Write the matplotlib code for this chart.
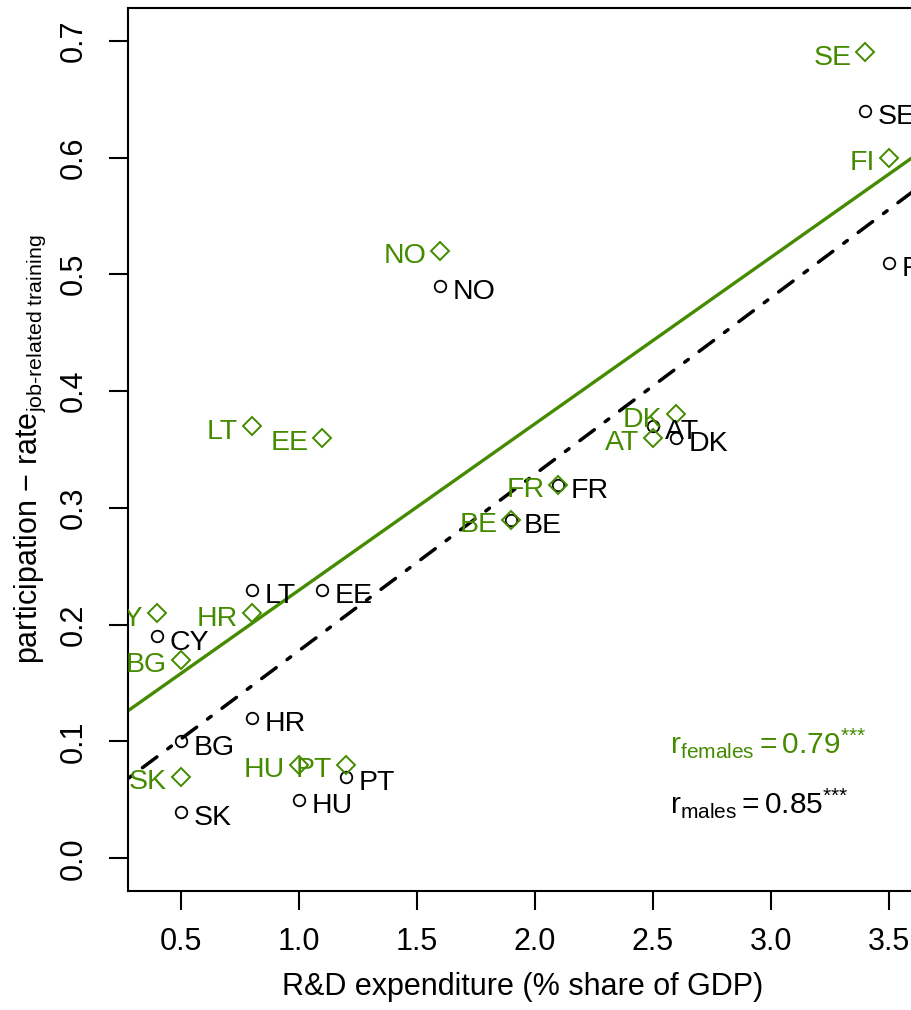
import numpy as np
import matplotlib
matplotlib.use("Agg")
from matplotlib import pyplot as plt

plt.rcParams['font.family'] = ['Liberation Sans', 'DejaVu Sans']
plt.rcParams['mathtext.fontset'] = 'custom'
plt.rcParams['mathtext.rm'] = 'Liberation Sans'
plt.rcParams['mathtext.it'] = 'Liberation Sans:italic'
plt.rcParams['mathtext.bf'] = 'Liberation Sans:bold'

GREEN = '#458B00'

# R&D expenditure (% of GDP) and participation rates
countries = ['SE', 'FI', 'NO', 'AT', 'DK', 'FR', 'BE', 'LT', 'EE',
             'CY', 'HR', 'BG', 'PT', 'HU', 'SK']
rd = [3.4, 3.5, 1.6, 2.5, 2.6, 2.1, 1.9, 0.8, 1.1,
      0.4, 0.8, 0.5, 1.2, 1.0, 0.5]
males = [0.64, 0.51, 0.49, 0.37, 0.36, 0.32, 0.29, 0.23, 0.23,
         0.19, 0.12, 0.10, 0.07, 0.05, 0.04]
females = [0.69, 0.60, 0.52, 0.36, 0.38, 0.32, 0.29, 0.37, 0.36,
           0.21, 0.21, 0.17, 0.08, 0.08, 0.07]

x_ticks = [0.5, 1.0, 1.5, 2.0, 2.5, 3.0, 3.5]
y_ticks = [0.0, 0.1, 0.2, 0.3, 0.4, 0.5, 0.6, 0.7]

fig = plt.figure(figsize=(9.12, 10.10), dpi=100)
# axes box runs past the right edge of the picture (cropped R plot)
ax = fig.add_axes([128 / 912, 119 / 1010, 790 / 912, 883 / 1010])

x = np.array(rd)
ym = np.array(males)
yf = np.array(females)

ax.set_xlim(0.276, 3.624)
ax.set_ylim(-0.028, 0.728)

# regression lines over the full plot width
xx = np.array(ax.get_xlim())
bf = np.polyfit(x, yf, 1)
bm = np.polyfit(x, ym, 1)
ax.plot(xx, np.polyval(bf, xx), color=GREEN, lw=2.4, zorder=2)
ax.plot(xx, np.polyval(bm, xx), color='black', lw=2.5,
        dashes=(1.3, 3.9, 5.2, 3.9), dash_capstyle='round', zorder=2)

ax.plot(x, ym, linestyle='none', marker='o', ms=8.3, mfc='none',
        mec='black', mew=1.3, zorder=3)
ax.plot(x, yf, linestyle='none', marker='D', ms=8.8, mfc='none',
        mec=GREEN, mew=1.4, zorder=3)

for c, xi, m, f in zip(countries, rd, males, females):
    ax.annotate(c, (xi, m), xytext=(9, -4.5), textcoords='offset points',
                ha='left', va='center', fontsize=20.5, color='black',
                annotation_clip=False, clip_on=True)
    ax.annotate(c, (xi, f), xytext=(-10, -4), textcoords='offset points',
                ha='right', va='center', fontsize=20.5, color=GREEN,
                annotation_clip=False, clip_on=True)

ax.text(2.573, 0.0897,
        r'$\mathrm{r}_{\mathrm{females}} = 0.79^{\text{***}}$',
        color=GREEN, fontsize=21.5, ha='left', va='baseline')
ax.text(2.573, 0.0385,
        r'$\mathrm{r}_{\mathrm{males}} = 0.85^{\text{***}}$',
        color='black', fontsize=21.5, ha='left', va='baseline')

ax.set_xticks(x_ticks)
ax.set_xticklabels(['%.1f' % v for v in x_ticks])
ax.set_yticks(y_ticks)
ax.set_yticklabels(['%.1f' % v for v in y_ticks])
ax.tick_params(axis='both', direction='out', length=14, width=1.5,
               labelsize=22, color='black')
ax.tick_params(axis='x', pad=12)
ax.tick_params(axis='y', pad=14)
for lab in ax.get_yticklabels():
    lab.set_rotation(90)
    lab.set_va('center')

for s in ax.spines.values():
    s.set_linewidth(1.5)

ax.set_xlabel('R&D expenditure (% share of GDP)', fontsize=22, labelpad=11)
ax.set_ylabel('participation \u2212 rate$_{\\text{job-related training}}$',
              fontsize=22, labelpad=8)

fig.savefig('out.png', dpi=100)
